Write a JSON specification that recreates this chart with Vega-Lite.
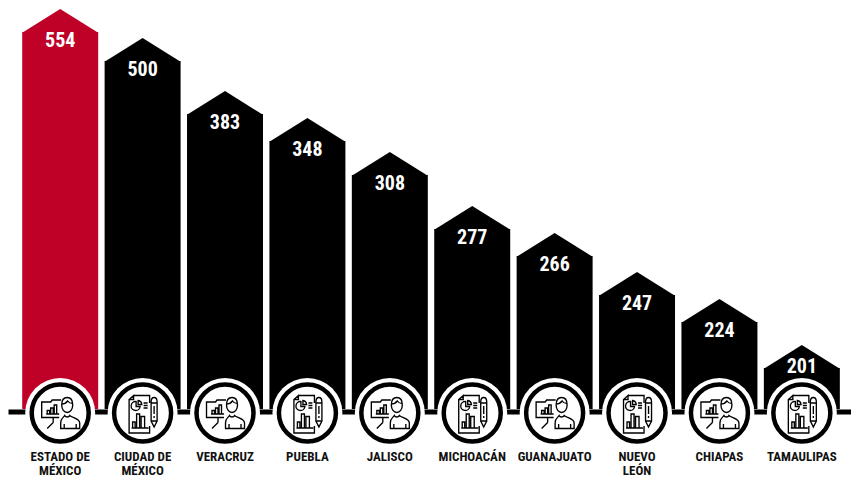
{
  "$schema": "https://vega.github.io/schema/vega-lite/v6.json",
  "width": 851,
  "height": 478,
  "autosize": "none",
  "padding": 0,
  "background": "white",
  "view": {"stroke": null},
  "data": {"values": [
    {"estado": "ESTADO DE MÉXICO", "casos": 554, "grupo": "mayor", "icono": "persona"},
    {"estado": "CIUDAD DE MÉXICO", "casos": 500, "grupo": "resto", "icono": "informe"},
    {"estado": "VERACRUZ", "casos": 383, "grupo": "resto", "icono": "persona"},
    {"estado": "PUEBLA", "casos": 348, "grupo": "resto", "icono": "informe"},
    {"estado": "JALISCO", "casos": 308, "grupo": "resto", "icono": "persona"},
    {"estado": "MICHOACÁN", "casos": 277, "grupo": "resto", "icono": "informe"},
    {"estado": "GUANAJUATO", "casos": 266, "grupo": "resto", "icono": "persona"},
    {"estado": "NUEVO LEÓN", "casos": 247, "grupo": "resto", "icono": "informe"},
    {"estado": "CHIAPAS", "casos": 224, "grupo": "resto", "icono": "persona"},
    {"estado": "TAMAULIPAS", "casos": 201, "grupo": "resto", "icono": "informe"}
  ]},
  "encoding": {
    "x": {
      "field": "estado",
      "type": "nominal",
      "sort": null,
      "title": null,
      "scale": {"range": [8, 851], "paddingInner": 0.078, "paddingOuter": 0.154, "align": 0.56},
      "axis": {
        "orient": "bottom",
        "offset": -66.5,
        "domainColor": "black",
        "domainWidth": 5,
        "ticks": false,
        "labelAngle": 0,
        "labelPadding": 38.5,
        "labelBaseline": "top",
        "labelOverlap": false,
        "labelFlush": false,
        "labelFont": "Roboto Condensed",
        "labelFontWeight": "bold",
        "labelFontSize": 13,
        "labelColor": "#111111",
        "labelLineHeight": 14.5,
        "labelLimit": 0,
        "grid": false,
        "zindex": 0,
        "labelExpr": "split(datum.label, regexp(' (?=\\\\S+$)'))"
      }
    },
    "y": {
      "field": "casos",
      "type": "quantitative",
      "axis": null,
      "scale": {
        "domain": [0, 201, 224, 247, 266, 277, 308, 348, 383, 500, 554],
        "range": [409, 368, 322, 295, 256, 229, 175, 141, 114, 61, 32]
      }
    },
    "color": {
      "field": "grupo",
      "type": "nominal",
      "legend": null,
      "scale": {"domain": ["mayor", "resto"], "range": ["#bf0027", "#000000"]}
    }
  },
  "layer": [
    {"mark": {"type": "bar", "cornerRadius": 0}},
    {
      "mark": {"type": "point", "filled": true, "opacity": 1, "size": 5776, "shape": "M-1 0.02 L0 -0.605 L1 0.02 Z"}
    },
    {
      "transform": [{"filter": "datum.casos > 201"}],
      "mark": {"type": "text", "font": "Roboto Condensed", "fontWeight": "bold", "fontSize": 20, "baseline": "middle", "dy": 9},
      "encoding": {"text": {"field": "casos", "type": "quantitative"}, "color": {"value": "white"}}
    },
    {
      "transform": [{"filter": "datum.casos == 201"}],
      "mark": {"type": "text", "font": "Roboto Condensed", "fontWeight": "bold", "fontSize": 20, "baseline": "middle", "dy": -1.5},
      "encoding": {"text": {"field": "casos", "type": "quantitative"}, "color": {"value": "white"}}
    },
    {
      "mark": {"type": "point", "shape": "circle", "filled": true, "opacity": 1, "size": 4900, "yOffset": 4},
      "encoding": {"y": {"datum": 0}, "color": {"value": "white"}}
    },
    {
      "mark": {"type": "point", "shape": "circle", "filled": false, "opacity": 1, "size": 3249, "strokeWidth": 4.5, "yOffset": 4},
      "encoding": {"y": {"datum": 0}, "color": {"value": "black"}}
    },
    {
      "mark": {"type": "point", "filled": false, "opacity": 1, "size": 4, "strokeWidth": 1.35, "yOffset": 4},
      "encoding": {
        "y": {"datum": 0},
        "color": {"value": "black"},
        "shape": {
          "field": "icono",
          "type": "nominal",
          "legend": null,
          "scale": {
            "domain": ["persona", "informe"],
            "range": [
              "M1.5 -8 C1.5 -13 3.5 -15.5 7 -15.5 C10.5 -15.5 12.5 -13 12.5 -8 C12.5 -3.5 10 -0.5 7 -0.5 C4 -0.5 1.5 -3.5 1.5 -8 Z M1.5 -9 C4 -9 6 -10 7.5 -12 C8.5 -10.5 10.5 -9.5 12.5 -9.5 M4.5 2.5 C3 5 0.5 5 0.5 10 V15.5 H19.5 V10 C19.5 5.5 12 5 9.5 2.5 C8.5 4.5 5.5 4.5 4.5 2.5 Z M4 15.5 V11 M16 15.5 V11 M1 -13 H-8 L-9.5 -11 H-18.5 V4.5 H-1 M-7 9.5 L-13 15.5 M-7 4.5 V9.5 M-14 1 H-1 M-13 1 V-2.5 H-10.5 V1 M-9.5 1 V-5 H-7 V1 M-6 1 V-8 H-3.5 V1",
              "M-9 -17.5 H7 V-10 M7 13 V20 H-13.5 V-13.5 L-9 -17.5 V-13.5 H-13.5 M-6.5 -11.5 A4.5 4.5 0 1 0 -2.5 -6.5 H-6.5 Z M-4.5 -12.5 A4.5 4.5 0 0 1 -0.8 -8.5 H-4.5 Z M1 -10 H5 M1 -7.5 H5 M1 -5 H5 M-11 15 H6 M-10 15 V9 H-7.5 V15 M-6 15 V1 H-3 V15 M-1.5 15 V3.5 H2 V15 M8.5 -11 C8.5 -14 10 -15.5 11.5 -15.5 C13 -15.5 14.5 -14 14.5 -11 V8 L11.5 14 L8.5 8 Z M8.5 -10 H14.5 M8.5 8 H14.5 M11.5 -7 V1 M11.5 3 V5"
            ]
          }
        }
      }
    }
  ]
}
